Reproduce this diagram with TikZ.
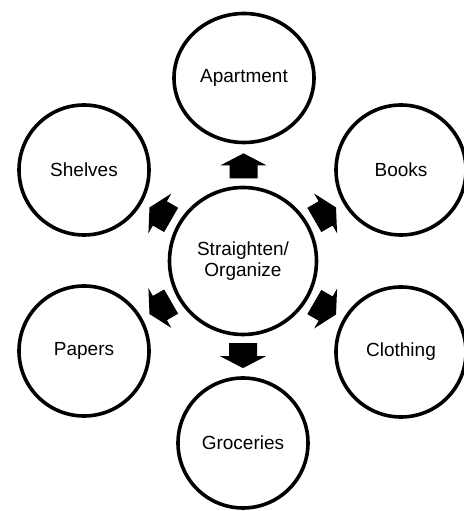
\documentclass[tikz,border=0pt]{standalone}
\usepackage{fontspec}
\setmainfont{Liberation Sans}
\usetikzlibrary{calc,shapes.geometric}

\begin{document}
\begin{tikzpicture}[x=1pt, y=1pt,
    topic/.style ={circle, draw, line width=3.6pt, minimum size=130pt, inner sep=0pt,
                   font=\fontsize{19}{21}\selectfont, align=center},
    hub/.style   ={topic, minimum size=147pt},           % middle circle
    wide/.style  ={topic, ellipse, minimum width=140pt, minimum height=129pt},
    fat/.style   ={fill=black, draw=none}
  ]
    \useasboundingbox (0,0) rectangle (463,511);

    % --- hub and the six topics ---
    \node[hub]   (hub)     at (243,250) {Straighten/\\Organize};
    \node[wide]  (apt)     at (244,433) {Apartment};
    \node[topic] (books)   at (401,341) {Books};
    \node[topic] (cloth)   at (401,159) {Clothing};
    \node[topic] (groc)    at (243,68)  {Groceries};
    \node[topic] (papers)  at (84,160)  {Papers};
    \node[topic] (shelves) at (84,341)  {Shelves};

    % --- block arrows out of the hub ---
    \foreach \t/\a in {apt/90,books/30,cloth/-30,groc/-90,papers/210,shelves/150}
      \fill[fat, shift={($(hub)!0.52!(\t)$)}, rotate=\a]
        (-12.5,-14) -- (0.5,-14) -- (0.5,-23) -- (12.5,0)
        -- (0.5,23) -- (0.5,14) -- (-12.5,14) -- cycle;
\end{tikzpicture}
\end{document}
